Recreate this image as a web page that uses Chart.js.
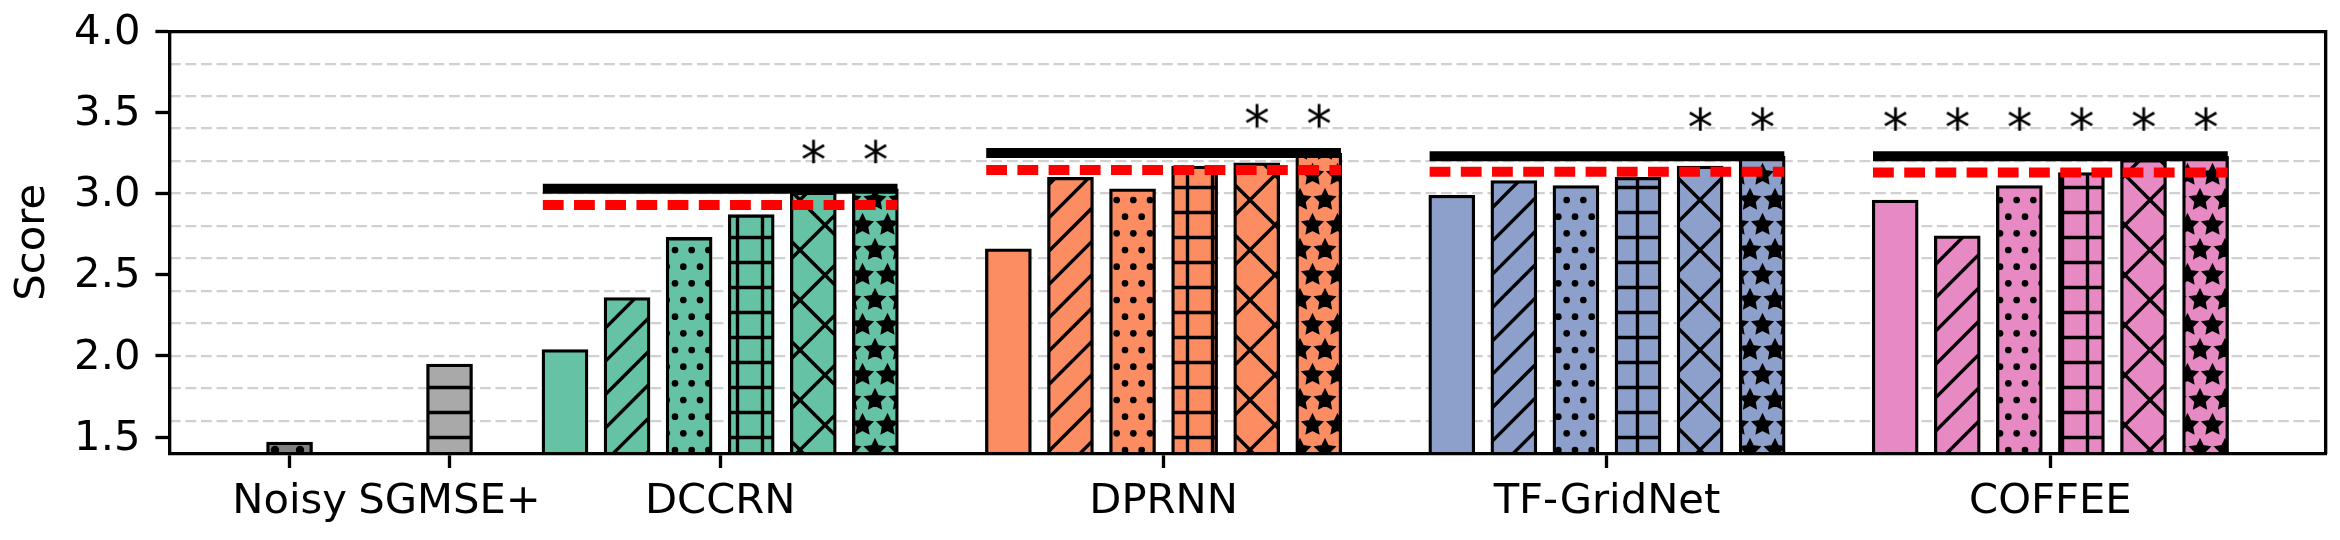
<!DOCTYPE html>
<html><head><meta charset="utf-8">
<script src="https://cdn.jsdelivr.net/npm/chart.js@4.4.1/dist/chart.umd.min.js"></script>
<style>html,body{margin:0;padding:0;background:#fff}canvas{display:block}</style>
</head><body>
<canvas id="c" width="2340" height="540"></canvas>
<script>
// ---------------- data ----------------
const categories = ['Noisy', 'SGMSE+', 'DCCRN', 'DPRNN', 'TF-GridNet', 'COFFEE'];
const noisyScores = [1.47];
const sgmseScores = [1.95];
const dccrnScores = [2.04, 2.36, 2.73, 2.87, 3.01, 3.03];
const dprnnScores = [2.66, 3.10, 3.03, 3.17, 3.19, 3.25];
const tfgridnetScores = [2.99, 3.08, 3.05, 3.10, 3.17, 3.23];
const coffeeScores = [2.96, 2.74, 3.05, 3.13, 3.21, 3.23];
const solidRefs = [3.03, 3.25, 3.23, 3.23];
const dashedRefs = [2.93, 3.145, 3.135, 3.13];
const starFlags = [[0,0,0,0,1,1],[0,0,0,0,1,1],[0,0,0,0,1,1],[1,1,1,1,1,1]];
const yTickValues = [1.5, 2.0, 2.5, 3.0, 3.5, 4.0];
const yTickLabels = ['1.5', '2.0', '2.5', '3.0', '3.5', '4.0'];
const yGridValues = [1.6, 1.8, 2.0, 2.2, 2.4, 2.6, 2.8, 3.0, 3.2, 3.4, 3.6, 3.8];

// ---------------- layout / style ----------------
const X_MIN = -0.674, X_MAX = 11.482;
const CAT_X = [0, 0.902, 2.428, 4.928, 7.428, 9.928];
const BAR_STEP = 0.35;
const REF_HALF = 1.0;
const STAR_GAP = 0.231;
const FONT = 41.7;
const STAR_FONT = 51;
const HATCH_LW = 3.4;
const groupColors = ['#66c2a5', '#fc8d62', '#8da0cb', '#e78ac3'];
const hatchSeq = ['', '///', '...', '++', 'xx', '**'];

const canvas = document.getElementById('c');
const mainCtx = canvas.getContext('2d');

function tile(w, h, bg, draw) {
  const c = document.createElement('canvas');
  c.width = w; c.height = h;
  const g = c.getContext('2d');
  g.fillStyle = bg; g.fillRect(0, 0, w, h);
  g.fillStyle = '#000'; g.strokeStyle = '#000'; g.lineWidth = HATCH_LW;
  g.lineCap = 'butt';
  draw(g, w, h);
  return mainCtx.createPattern(c, 'repeat');
}
function dot(g, x, y, r) { g.beginPath(); g.arc(x, y, r, 0, Math.PI * 2); g.fill(); }
function star(g, cx, cy, R, r) {
  g.beginPath();
  for (let k = 0; k < 10; k++) {
    const a = Math.PI / 2 + k * Math.PI / 5;
    const rr = k % 2 === 0 ? R : r;
    const x = cx + rr * Math.cos(a), y = cy - rr * Math.sin(a);
    if (k === 0) g.moveTo(x, y); else g.lineTo(x, y);
  }
  g.closePath(); g.fill();
  g.save(); g.lineWidth = 2.8; g.lineJoin = 'miter'; g.stroke(); g.restore();
}
function makeFill(color, hatch) {
  if (hatch === '') return color;
  if (hatch === '///') return tile(100, 100, color, (g) => {
    for (let k = -2; k <= 8; k++) {
      const s = k * 100 / 3;
      g.beginPath(); g.moveTo(s + 20, -20); g.lineTo(s - 120, 120); g.stroke();
    }
  });
  if (hatch === 'xx') return tile(50, 50, color, (g) => {
    for (let k = -2; k <= 4; k++) {
      const s = k * 50;
      g.beginPath(); g.moveTo(s + 20, -20); g.lineTo(s - 70, 70); g.stroke();
      g.beginPath(); g.moveTo(s - 20, -20); g.lineTo(s + 70, 70); g.stroke();
    }
  });
  if (hatch === '++') return tile(25, 25, color, (g) => {
    g.beginPath(); g.moveTo(-5, 12.5); g.lineTo(30, 12.5); g.stroke();
    g.beginPath(); g.moveTo(12.5, -5); g.lineTo(12.5, 30); g.stroke();
  });
  if (hatch === '--') return tile(25, 25, color, (g) => {
    g.beginPath(); g.moveTo(-5, 12.5); g.lineTo(30, 12.5); g.stroke();
  });
  if (hatch === '..') return tile(25, 50, color, (g) => {
    const r = 4.2;
    [[0,0],[25,0],[0,50],[25,50],[12.5,25]].forEach(p => dot(g, p[0], p[1], r));
  });
  if (hatch === '...') return tile(50, 100, color, (g) => {
    const s = 50 / 3, r = 3.35;
    for (let row = 0; row <= 6; row++) {
      const y = row * s;
      const off = row % 2 === 0 ? 0 : s / 2;
      for (let i = -1; i <= 4; i++) dot(g, off + i * s, y, r);
    }
  });
  if (hatch === '**') return tile(50, 50, color, (g) => {
    for (let row = -1; row <= 3; row++) {
      const y = row * 25;
      const off = (row % 2 === 0) ? 0 : 12.5;
      for (let i = -1; i <= 3; i++) star(g, off + i * 25, y, 9.0, 4.5);
    }
  });
  return color;
}

function asteriskImage() {
  const c = document.createElement('canvas');
  c.width = 64; c.height = 64;
  const g = c.getContext('2d');
  g.textBaseline = 'alphabetic';
  g.font = STAR_FONT + 'px "DejaVu Sans"';
  const m = g.measureText('*');
  const w = m.actualBoundingBoxLeft + m.actualBoundingBoxRight;
  const h = m.actualBoundingBoxAscent + m.actualBoundingBoxDescent;
  g.fillStyle = '#000';
  g.fillText('*', 32 - w / 2 + m.actualBoundingBoxLeft, 32 - h / 2 + m.actualBoundingBoxAscent);
  return c;
}

// ---------------- build marks ----------------
const groupScores = [dccrnScores, dprnnScores, tfgridnetScores, coffeeScores];
const barPts = [], barFills = [];
barPts.push({x: CAT_X[0], y: noisyScores[0]}); barFills.push(makeFill('#808080', '..'));
barPts.push({x: CAT_X[1], y: sgmseScores[0]}); barFills.push(makeFill('#a9a9a9', '--'));
groupScores.forEach((arr, g) => {
  arr.forEach((v, i) => {
    barPts.push({x: CAT_X[g + 2] + (i - 2.5) * BAR_STEP, y: v});
    barFills.push(makeFill(groupColors[g], hatchSeq[i]));
  });
});

const datasets = [{
  type: 'bar', data: barPts, backgroundColor: barFills, borderColor: '#000',
  borderWidth: 3.3, barThickness: 46, grouped: false, borderSkipped: 'start', order: 5
}];
solidRefs.forEach((v, g) => {
  datasets.push({type: 'line', data: [{x: CAT_X[g + 2] - REF_HALF, y: v}, {x: CAT_X[g + 2] + REF_HALF, y: v}],
    borderColor: '#000', borderWidth: 10, pointRadius: 0, borderCapStyle: 'butt', order: 3});
});
dashedRefs.forEach((v, g) => {
  datasets.push({type: 'line', data: [{x: CAT_X[g + 2] - REF_HALF, y: v}, {x: CAT_X[g + 2] + REF_HALF, y: v}],
    borderColor: '#ff0000', borderWidth: 10, borderDash: [20.8, 10.4], pointRadius: 0, borderCapStyle: 'butt', order: 2});
});
const starPts = [];
starFlags.forEach((flags, g) => flags.forEach((f, i) => {
  if (f) starPts.push({x: CAT_X[g + 2] + (i - 2.5) * BAR_STEP, y: solidRefs[g] + STAR_GAP});
}));
datasets.push({type: 'line', data: starPts, showLine: false, pointStyle: asteriskImage(),
  pointRadius: 10, pointHoverRadius: 10, order: 0});

const tickFont = {family: 'DejaVu Sans', size: FONT};
Chart.defaults.font.family = 'DejaVu Sans';

new Chart(canvas, {
  type: 'bar',
  data: {datasets},
  options: {
    responsive: false, animation: false, devicePixelRatio: 1, events: [],
    layout: {padding: {left: 0, right: 14, top: 31.2, bottom: 0}},
    plugins: {legend: {display: false}, tooltip: {enabled: false}},
    scales: {
      x: {
        type: 'linear', position: 'bottom', min: X_MIN, max: X_MAX, offset: false, bounds: 'data',
        afterBuildTicks: s => { s.ticks = CAT_X.map(v => ({value: v})); },
        afterFit: s => { s.height = 86.6; },
        ticks: {autoSkip: false, maxRotation: 0, minRotation: 0, font: tickFont, color: '#000', padding: 9.3,
          callback: (v, i) => categories[i]},
        grid: {display: true, drawOnChartArea: false, drawTicks: true, tickLength: 14.6, tickWidth: 3.33, tickColor: '#000', offset: false},
        border: {display: true, color: '#000', width: 3.33, z: 1}
      },
      xTop: {
        type: 'linear', position: 'top', min: 0, max: 1,
        afterFit: s => { s.height = 0; },
        ticks: {display: false}, grid: {display: false, drawTicks: false},
        border: {display: true, color: '#000', width: 3.33, z: 1}
      },
      y: {
        type: 'linear', position: 'left', min: 1.4, max: 4.0, bounds: 'data',
        afterBuildTicks: s => { s.ticks = yTickValues.map(v => ({value: v})); },
        afterFit: s => { s.width = 170; },
        ticks: {font: {family: 'DejaVu Sans', size: FONT, lineHeight: '3.6px'}, color: '#000', padding: 15,
          callback: (v, i) => ['', yTickLabels[i]]},
        grid: {display: true, drawOnChartArea: false, drawTicks: true, tickLength: 14.6, tickWidth: 3.33, tickColor: '#000'},
        border: {display: true, color: '#000', width: 3.33, z: 1},
        title: {display: true, text: 'Score', font: tickFont, color: '#000', padding: {top: 8.6, bottom: 0}}
      },
      yGrid: {
        type: 'linear', position: 'right', min: 1.4, max: 4.0, bounds: 'data',
        afterBuildTicks: s => { s.ticks = yGridValues.map(v => ({value: v})); },
        afterFit: s => { s.width = 0; },
        ticks: {display: false},
        grid: {display: true, drawOnChartArea: true, drawTicks: false, color: '#d0d0d0', lineWidth: 2.3},
        border: {display: false, dash: [10.8, 4.7]}
      },
      yRight: {
        type: 'linear', position: 'right', min: 0, max: 1,
        afterFit: s => { s.width = 0; },
        ticks: {display: false}, grid: {display: false, drawTicks: false},
        border: {display: true, color: '#000', width: 3.33, z: 1}
      }
    }
  }
});
</script>
</body></html>
